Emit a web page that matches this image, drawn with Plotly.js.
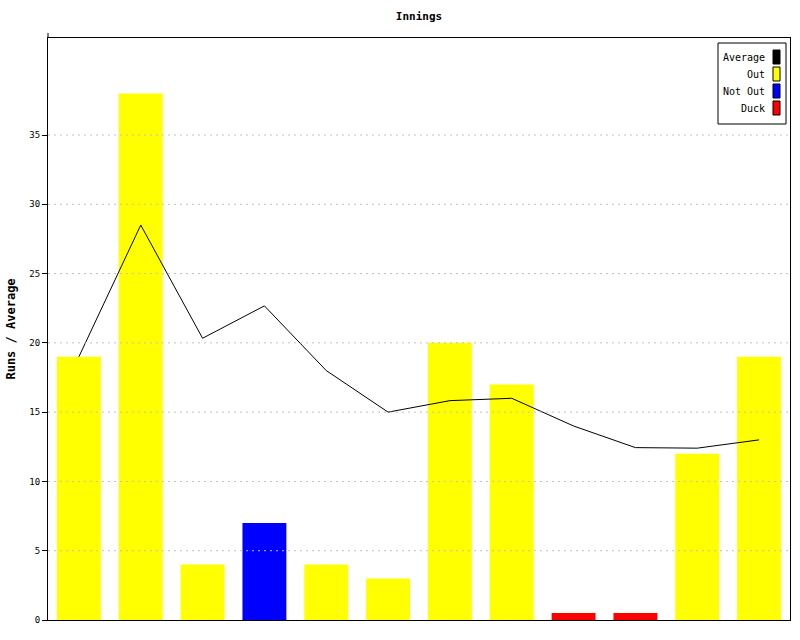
<!DOCTYPE html>
<html>
<head>
<meta charset="utf-8">
<script src="https://cdn.plot.ly/plotly-3.0.1.min.js"></script>
<style>html,body{margin:0;padding:0;background:#fff;}#chart{width:800px;height:640px;}</style>
</head>
<body>
<div id="chart"></div>
<script>
// ---- data ----
const innings = [1,2,3,4,5,6,7,8,9,10,11,12];
const runs = [19, 38, 4, 7, 4, 3, 20, 17, 0.5, 0.5, 12, 19];
const kinds = ["Out","Out","Out","Not Out","Out","Out","Out","Out","Duck","Duck","Out","Out"];
const average = [19, 28.5, 20.33, 22.67, 18, 15, 15.83, 16, 14, 12.44, 12.4, 13];
const legendNames = ["Average","Out","Not Out","Duck"];
const yTicks = [0,5,10,15,20,25,30,35];

const kindColor = {"Average":"#000000","Out":"#ffff00","Not Out":"#0000ff","Duck":"#ff0000"};
const FONT = "DejaVu Sans Mono, Liberation Mono, monospace";

const W=800,H=640, L=48, R=790, T=38, B=620;
const px = x => (x-L)/(R-L);
const py = y => (B-y)/(B-T);

const traces = [
  {type:'bar', x:innings, y:runs, marker:{color:kinds.map(k=>kindColor[k]), line:{width:0}},
   showlegend:false, hoverinfo:'skip'},
  {type:'scatter', mode:'lines', x:innings, y:average, line:{color:'#000', width:1},
   showlegend:false, hoverinfo:'skip'}
];

const shapes = [];
yTicks.filter(v=>v>0).forEach(v=>{
  shapes.push({type:'line', xref:'paper', x0:0, x1:1, yref:'y', y0:v, y1:v,
    line:{color:'#c0c0c0', width:1, dash:'2px,4px'}, layer:'above'});
});
// axis extension above plot top
shapes.push({type:'line', xref:'paper', yref:'paper', x0:0, x1:0, y0:1, y1:py(33), line:{color:'#000',width:1}});

// custom legend
const annotations = [];
shapes.push({type:'rect', xref:'paper', yref:'paper', x0:px(718), x1:px(786), y0:py(43), y1:py(124),
  line:{color:'#000', width:1}, fillcolor:'#fff', layer:'above'});
legendNames.forEach((n,i)=>{
  const cy = 57 + i*17;
  shapes.push({type:'rect', xref:'paper', yref:'paper', x0:px(773), x1:px(780), y0:py(cy-7), y1:py(cy+7),
    line:{color:'#000', width:1}, fillcolor:kindColor[n], layer:'above'});
  annotations.push({xref:'paper', yref:'paper', x:px(767), y:py(cy), xanchor:'right', yanchor:'middle',
    text:n, showarrow:false, font:{family:FONT, size:10, color:'#000'}});
});

const layout = {
  width:W, height:H,
  margin:{l:L, r:W-R, t:T, b:H-B, pad:0},
  paper_bgcolor:'#fff', plot_bgcolor:'#fff',
  title:{text:'<b>Innings</b>', x:(L+R)/2/W, xanchor:'center', y:1-16/H, yanchor:'middle',
    font:{family:FONT, size:11, color:'#000'}},
  bargap:0.29,
  showlegend:false,
  xaxis:{range:[0.5,12.5], showticklabels:false, ticks:'', showgrid:false, zeroline:false,
    showline:true, linecolor:'#000', linewidth:1, mirror:true, fixedrange:true},
  yaxis:{range:[0,42], tickvals:yTicks, ticktext:yTicks.map(String), ticks:'outside', ticklen:5,
    tickcolor:'#000', tickwidth:1, showgrid:false, zeroline:false,
    showline:true, linecolor:'#000', linewidth:1, mirror:true,
    tickfont:{family:FONT, size:9, color:'#000'},
    title:{text:'<b>Runs / Average</b>', font:{family:FONT, size:12, color:'#000'}, standoff:11},
    fixedrange:true},
  shapes:shapes, annotations:annotations
};

Plotly.newPlot('chart', traces, layout, {staticPlot:true, displayModeBar:false});
</script>
</body>
</html>
